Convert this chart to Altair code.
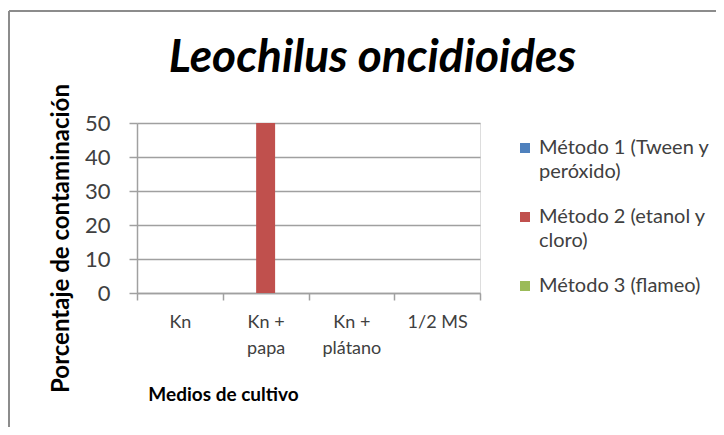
import altair as alt
import pandas as pd

medios = ["Kn", "Kn + papa", "Kn + plátano", "1/2 MS"]
metodos = ["Método 1 (Tween y peróxido)", "Método 2 (etanol y cloro)", "Método 3 (flameo)"]
metodo1 = [0, 0, 0, 0]
metodo2 = [0, 50, 0, 0]
metodo3 = [0, 0, 0, 0]
colores = ["#4F81BD", "#C0504D", "#9BBB59"]
y_ticks = [0, 10, 20, 30, 40, 50]

rows = []
for serie, vals in zip(metodos, [metodo1, metodo2, metodo3]):
    for m, v in zip(medios, vals):
        rows.append({"medio": m, "metodo": serie, "valor": v})
df = pd.DataFrame(rows)

FONT = "Lato"
W, H = 343, 170
GRID = "#a0a0a0"

bars = alt.Chart(df).mark_bar().encode(
    x=alt.X("medio:N", sort=medios,
            scale=alt.Scale(paddingInner=0, paddingOuter=0),
            axis=alt.Axis(title="Medios de cultivo", labelAngle=0, tickBand="extent",
                          labelExpr="split(replace(datum.label, '+ ', '+|'), '|')",
                          labelFontSize=18, labelColor="#404040", labelFont=FONT,
                          labelPadding=13, labelLineHeight=26,
                          domainColor=GRID, domainWidth=1.5, tickColor=GRID,
                          tickWidth=1.5, tickSize=7,
                          titleFont=FONT, titleFontSize=19, titleFontWeight="bold",
                          titleColor="#000000", titleX=86, titleY=107,
                          titleBaseline="alphabetic", titleAlign="center")),
    xOffset=alt.XOffset("metodo:N", sort=metodos,
                        scale=alt.Scale(paddingInner=0, paddingOuter=0.76)),
    y=alt.Y("valor:Q", scale=alt.Scale(domain=[0, 50], nice=False),
            axis=alt.Axis(title="Porcentaje de contaminación", values=y_ticks,
                          labelFontSize=22, labelColor="#404040", labelFont=FONT,
                          labelPadding=19, tickSize=8, tickColor=GRID, tickWidth=1.5,
                          domainColor=GRID, domainWidth=1.5, gridColor=GRID, gridWidth=1.5,
                          titleFont=FONT, titleFontSize=24, titleFontWeight="bold",
                          titleColor="#000000", titleX=-69, titleY=115,
                          titleBaseline="alphabetic", titleAngle=-90, titleAlign="center")),
    color=alt.Color("metodo:N", sort=metodos,
                    scale=alt.Scale(domain=metodos, range=colores),
                    legend=alt.Legend(title=None, orient="none", legendX=378, legendY=15,
                                      symbolType="square", symbolSize=100,
                                      symbolStrokeWidth=0,
                                      labelExpr="split(replace(datum.label, ' y ', ' y|'), '|')",
                                      labelFont=FONT, labelFontSize=20, labelColor="#404040",
                                      labelLimit=300, labelOffset=4,
                                      rowPadding=25)),
)

frame_df = pd.DataFrame({"k": [0]})
top_border = alt.Chart(frame_df).mark_rule(color="#8c8c8c", strokeWidth=2).encode(
    x=alt.value(-128), x2=alt.value(700), y=alt.value(-112))
left_border = alt.Chart(frame_df).mark_rule(color="#8c8c8c", strokeWidth=2).encode(
    x=alt.value(-128), y=alt.value(-112), y2=alt.value(400))

chart = alt.layer(bars, top_border, left_border).properties(
    width=W, height=H,
    padding={"left": 129, "top": 115, "right": 236, "bottom": 134},
    autosize=alt.AutoSizeParams(type="none"),
    title=alt.TitleParams("Leochilus oncidioides", font=FONT, fontSize=46,
                          fontWeight="bold", fontStyle="italic", color="#000000",
                          anchor="middle", frame="group", baseline="alphabetic",
                          offset=0, dx=64, dy=108),
).configure_view(stroke=None).configure(
    background="white", style={"guide-label": {"lineHeight": 24}})

chart.save("out.html", embed_options={"renderer": "svg", "actions": False})
